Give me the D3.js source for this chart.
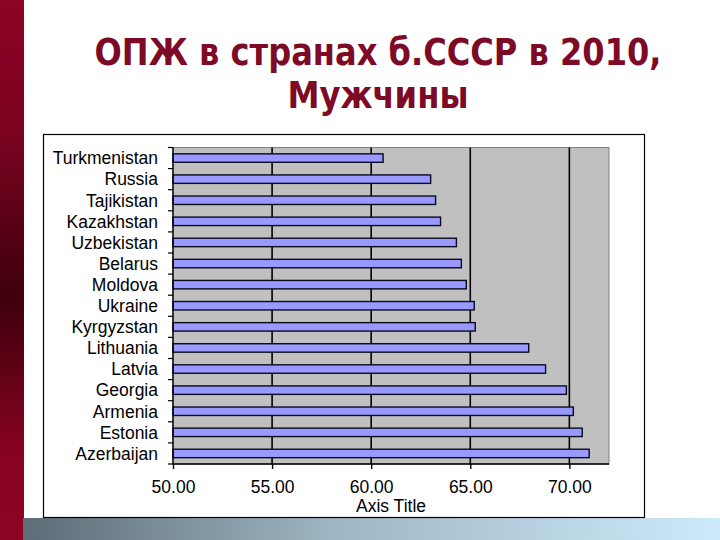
<!DOCTYPE html>
<html lang="ru">
  <head>
    <meta charset="UTF-8" />
    <title>ОПЖ в странах б.СССР в 2010, Мужчины</title>
    <style>
      body {
        margin: 0;
        background: #fff;
      }
    </style>
  </head>
  <body>
    <svg id="container" width="720" height="540"></svg>
  </body>
  <script src="https://cdn.jsdelivr.net/npm/d3@7"></script>
  <script>
    const countries = [
      "Turkmenistan", "Russia", "Tajikistan", "Kazakhstan", "Uzbekistan",
      "Belarus", "Moldova", "Ukraine", "Kyrgyzstan", "Lithuania",
      "Latvia", "Georgia", "Armenia", "Estonia", "Azerbaijan",
    ];
    const lifeExpectancy = [
      60.6, 63.0, 63.25, 63.5, 64.3,
      64.55, 64.8, 65.2, 65.25, 67.95,
      68.8, 69.85, 70.2, 70.65, 71.0,
    ];
    const xTicks = [50, 55, 60, 65, 70];
    const titleLines = ["ОПЖ в странах б.СССР в 2010,", "Мужчины"];
    const axisTitle = "Axis Title";

    const data = countries.map((c, i) => ({ name: c, value: lifeExpectancy[i] }));

    let svg = d3.select("#container");
    let defs = svg.append("defs");

    // slide decorations
    let side = defs.append("linearGradient").attr("id", "side")
      .attr("x1", 0).attr("y1", 0).attr("x2", 0).attr("y2", 1);
    side.append("stop").attr("offset", "0%").attr("stop-color", "#8e0424");
    side.append("stop").attr("offset", "25%").attr("stop-color", "#7a0320");
    side.append("stop").attr("offset", "55%").attr("stop-color", "#3e000c");
    side.append("stop").attr("offset", "85%").attr("stop-color", "#8a0322");
    side.append("stop").attr("offset", "100%").attr("stop-color", "#8e0424");
    let strip = defs.append("linearGradient").attr("id", "strip")
      .attr("x1", 0).attr("y1", 0).attr("x2", 1).attr("y2", 0);
    strip.append("stop").attr("offset", "0%").attr("stop-color", "#5d6c76");
    strip.append("stop").attr("offset", "45%").attr("stop-color", "#9fb7c4");
    strip.append("stop").attr("offset", "100%").attr("stop-color", "#cdeafa");

    svg.append("rect").attr("x", 0).attr("y", 0).attr("width", 24).attr("height", 540)
      .style("fill", "url(#side)");
    svg.append("rect").attr("x", 23).attr("y", 518).attr("width", 697).attr("height", 22)
      .style("fill", "url(#strip)");

    // title, squeezed to the width of the original condensed face
    const titleWidths = [567, 181];
    svg.append("g").selectAll("text").data(titleLines).join("text")
      .attr("x", 378)
      .attr("y", (d, i) => 65 + i * 43)
      .attr("text-anchor", "middle")
      .attr("textLength", (d, i) => titleWidths[i])
      .attr("lengthAdjust", "spacingAndGlyphs")
      .style("font-family", "'DejaVu Sans Condensed', 'DejaVu Sans', sans-serif")
      .style("font-weight", "bold")
      .style("font-size", "38px")
      .style("fill", "#7d0a26")
      .text((d) => d);

    // chart frame
    svg.append("rect").attr("x", 43.5).attr("y", 134.5).attr("width", 601).attr("height", 383)
      .style("fill", "#fff").style("stroke", "#000").style("stroke-width", 1.2);

    const margin = { left: 173, top: 147.5, right: 609, bottom: 464 };

    let x = d3.scaleLinear().domain([50, 72]).range([margin.left, margin.right]);
    let y = d3.scaleBand().domain(countries).range([margin.top, margin.bottom]).padding(0);

    let plot = svg.append("g");
    plot.append("rect")
      .attr("x", margin.left).attr("y", margin.top)
      .attr("width", margin.right - margin.left).attr("height", margin.bottom - margin.top)
      .style("fill", "#c0c0c0").style("stroke", "#808080").style("stroke-width", 1);

    plot.selectAll("line.grid").data(xTicks.slice(1)).join("line")
      .attr("class", "grid")
      .attr("x1", (d) => x(d)).attr("x2", (d) => x(d))
      .attr("y1", margin.top).attr("y2", margin.bottom)
      .style("stroke", "#000").style("stroke-width", 1.6);

    let barH = y.bandwidth() * 0.4;
    plot.selectAll("rect.bar").data(data).join("rect")
      .attr("class", "bar")
      .attr("x", x(50))
      .attr("y", (d) => y(d.name) + (y.bandwidth() - barH) / 2)
      .attr("width", (d) => x(d.value) - x(50))
      .attr("height", barH)
      .style("fill", "#9999ff")
      .style("stroke", "#0a0a20")
      .style("stroke-width", 1.4);

    // y axis: ticks between categories
    let yAxis = svg.append("g");
    yAxis.append("line")
      .attr("x1", margin.left).attr("x2", margin.left)
      .attr("y1", margin.top).attr("y2", margin.bottom)
      .style("stroke", "#000").style("stroke-width", 1.4);
    yAxis.selectAll("line.tick")
      .data(countries.map((c) => y(c)).concat([margin.bottom]))
      .join("line").attr("class", "tick")
      .attr("x1", margin.left - 5).attr("x2", margin.left)
      .attr("y1", (d) => d).attr("y2", (d) => d)
      .style("stroke", "#000").style("stroke-width", 1.2);
    yAxis.selectAll("text").data(countries).join("text")
      .attr("x", 158)
      .attr("y", (d) => y(d) + y.bandwidth() / 2)
      .attr("dy", "0.36em")
      .attr("text-anchor", "end")
      .style("font-family", "'Liberation Sans', Arial, sans-serif")
      .style("font-size", "17.5px")
      .style("fill", "#000")
      .text((d) => d);

    // x axis
    let xAxis = d3.axisBottom(x).tickValues(xTicks).tickSize(5).tickPadding(12)
      .tickFormat(d3.format(".2f"));
    let xg = svg.append("g").attr("transform", `translate(0,${margin.bottom})`).call(xAxis);
    xg.select(".domain").style("stroke", "#000").style("stroke-width", 1.4)
      .attr("d", `M${margin.left},0H${margin.right}`);
    xg.selectAll(".tick line").style("stroke", "#000").style("stroke-width", 1.4);
    xg.selectAll(".tick text")
      .style("font-family", "'Liberation Sans', Arial, sans-serif")
      .style("font-size", "17.5px")
      .style("fill", "#000");

    svg.append("text")
      .attr("x", 391).attr("y", 512)
      .attr("text-anchor", "middle")
      .style("font-family", "'Liberation Sans', Arial, sans-serif")
      .style("font-size", "17.5px")
      .text(axisTitle);
  </script>
</html>
